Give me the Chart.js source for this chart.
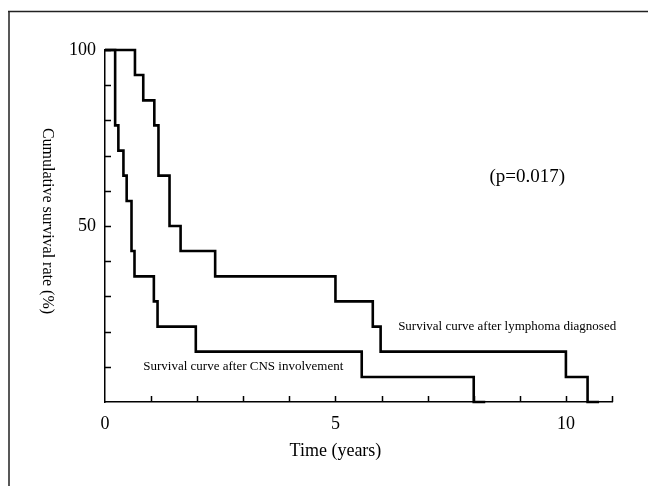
<!DOCTYPE html>
<html><head><meta charset="utf-8">
<script src="https://cdn.jsdelivr.net/npm/chart.js@4/dist/chart.umd.min.js"></script>
<style>html,body{margin:0;padding:0;background:#fff}#wrap{width:648px;height:486px}</style>
</head><body><div id="wrap"><canvas id="c" width="648" height="486"></canvas></div>
<script>
// Kaplan-Meier step data (time in years, cumulative survival %)
const lymphomaTimes    = [0, 0.65, 0.83, 1.07, 1.16, 1.40, 1.64, 2.39, 5.00, 5.81, 5.98, 10.00, 10.47, 10.72];
const lymphomaSurvival = [100, 92.9, 85.7, 78.6, 64.3, 50.0, 42.9, 35.7, 28.6, 21.4, 14.3, 7.1, 0, 0];
const cnsTimes    = [0, 0.22, 0.29, 0.40, 0.47, 0.575, 0.64, 1.06, 1.14, 1.97, 5.57, 8.00, 8.25];
const cnsSurvival = [100, 78.6, 71.4, 64.3, 57.1, 42.9, 35.7, 28.6, 21.4, 14.3, 7.1, 0, 0];
const xTickLabels = [0, 5, 10];
const yTickLabels = [50, 100];
const xTitle = 'Time (years)';
const yTitle = 'Cumulative survival rate (%)';
const lymphomaLabel = 'Survival curve after lymphoma diagnosed';
const cnsLabel = 'Survival curve after CNS involvement';
const pValueLabel = '(p=0.017)';

const serif = '"Liberation Serif", "Times New Roman", serif';
const toPts = (xs, ys) => xs.map((x, i) => ({x: x, y: ys[i]}));

const decor = {
  id: 'decor',
  beforeDraw(chart) {
    const ctx = chart.ctx;
    ctx.save();
    ctx.strokeStyle = '#222';
    ctx.lineWidth = 1.5;
    ctx.beginPath();
    ctx.moveTo(8, 11.5); ctx.lineTo(648, 11.5);
    ctx.moveTo(9, 11); ctx.lineTo(9, 486);
    ctx.stroke();
    ctx.restore();
  },
  afterDraw(chart) {
    const ctx = chart.ctx;
    const xs = chart.scales.x, ys = chart.scales.y;
    ctx.save();
    // inward tick marks
    ctx.strokeStyle = '#000';
    ctx.lineWidth = 1.5;
    ctx.beginPath();
    xs.ticks.forEach(t => {
      if (t.value === 0) return;
      const px = Math.round(xs.getPixelForValue(t.value)) + 0.5;
      ctx.moveTo(px, ys.bottom); ctx.lineTo(px, ys.bottom - 6);
    });
    ys.ticks.forEach(t => {
      if (t.value === 0) return;
      const py = Math.round(ys.getPixelForValue(t.value)) + 0.5;
      ctx.moveTo(xs.left, py); ctx.lineTo(xs.left + 6, py);
    });
    ctx.stroke();
    // texts
    ctx.fillStyle = '#000';
    ctx.textBaseline = 'middle';
    ctx.font = '18px ' + serif;
    ctx.textAlign = 'center';
    ctx.fillText(xTitle, xs.getPixelForValue(5), 451);
    ctx.save();
    ctx.translate(47, 221);
    ctx.rotate(Math.PI / 2);
    ctx.font = '16px ' + serif;
    ctx.fillText(yTitle, 0, 0);
    ctx.restore();
    ctx.font = '19px ' + serif;
    ctx.fillText(pValueLabel, xs.getPixelForValue(9.16), ys.getPixelForValue(63.9));
    ctx.textAlign = 'left';
    ctx.font = '13px ' + serif;
    ctx.fillText(lymphomaLabel, xs.getPixelForValue(6.36), ys.getPixelForValue(21.3));
    ctx.fillText(cnsLabel, xs.getPixelForValue(0.83), ys.getPixelForValue(10.0));
    ctx.restore();
  }
};

new Chart(document.getElementById('c'), {
  type: 'line',
  data: {
    datasets: [
      { label: lymphomaLabel, data: toPts(lymphomaTimes, lymphomaSurvival), stepped: true,
        borderColor: '#000', borderWidth: 2.6, pointRadius: 0, fill: false, clip: false },
      { label: cnsLabel, data: toPts(cnsTimes, cnsSurvival), stepped: true,
        borderColor: '#000', borderWidth: 2.6, pointRadius: 0, fill: false, clip: false }
    ]
  },
  options: {
    responsive: false,
    devicePixelRatio: 1,
    animation: false,
    layout: { padding: { left: 0, top: 50, right: 36, bottom: 0 } },
    plugins: { legend: { display: false }, tooltip: { enabled: false } },
    scales: {
      x: {
        type: 'linear', min: 0, max: 11,
        grid: { display: false },
        border: { display: true, color: '#000', width: 1.5 },
        ticks: { stepSize: 1, autoSkip: false, maxRotation: 0, padding: 3, color: '#000',
                 font: { family: serif, size: 18 },
                 callback: v => xTickLabels.includes(v) ? String(v) : '' },
        afterFit: s => { s.height = 84; }
      },
      y: {
        type: 'linear', min: 0, max: 100,
        grid: { display: false },
        border: { display: true, color: '#000', width: 1.5 },
        ticks: { stepSize: 10, autoSkip: false, padding: 1, color: '#000',
                 font: { family: serif, size: 18 },
                 callback: v => yTickLabels.includes(v) ? String(v) : '' },
        afterFit: s => { s.width = 105; }
      }
    }
  },
  plugins: [decor]
});
</script></body></html>
